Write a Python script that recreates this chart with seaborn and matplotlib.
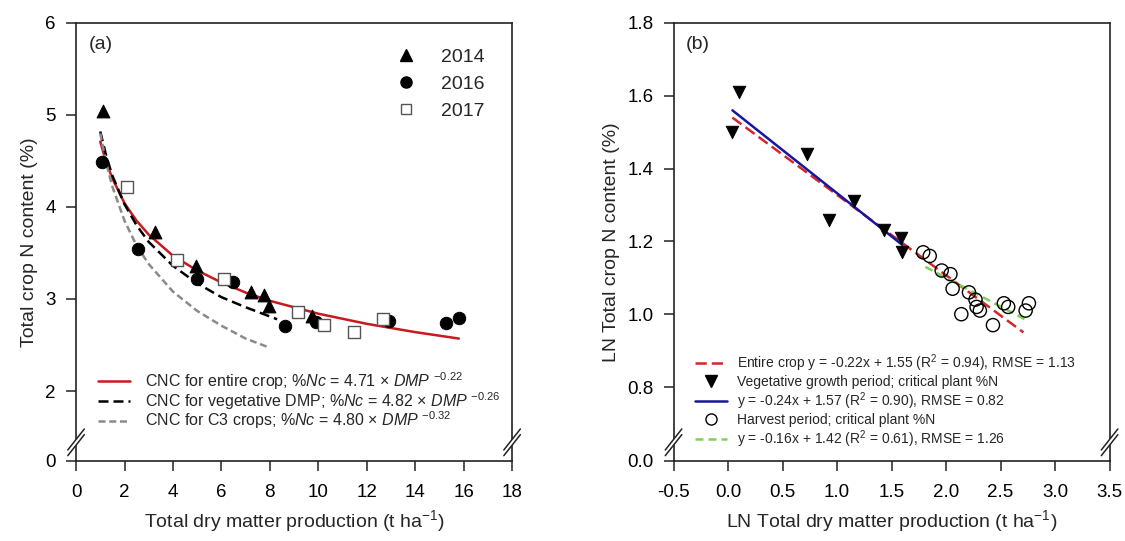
import numpy as np
import pandas as pd
import matplotlib
matplotlib.use('Agg')
import matplotlib.pyplot as plt
from matplotlib.lines import Line2D
from matplotlib.patches import Polygon
import seaborn as sns

x2014 = [1.13, 3.24, 4.94, 7.23, 7.77, 7.95, 9.74]
y2014 = [5.04, 3.73, 3.36, 3.08, 3.04, 2.92, 2.81]
x2016 = [1.06, 2.55, 4.99, 6.47, 8.64, 9.92, 12.90, 15.29, 15.80]
y2016 = [4.49, 3.54, 3.22, 3.18, 2.71, 2.75, 2.76, 2.74, 2.79]
x2017 = [2.09, 4.16, 6.12, 9.16, 10.22, 11.46, 12.66]
y2017 = [4.22, 3.42, 3.22, 2.86, 2.72, 2.64, 2.78]

# dilution curves, values
cnc_entire_x = [1.0, 1.25, 1.5, 2.0, 2.5, 3.0, 4.0, 5.0, 6.0, 7.0, 8.0, 10.0, 12.0, 14.0, 15.8]
cnc_entire_y = [4.71, 4.48, 4.31, 4.04, 3.85, 3.70, 3.47, 3.31, 3.18, 3.07, 2.98, 2.84, 2.73, 2.64, 2.57]
cnc_veg_x = [1.0, 1.25, 1.5, 2.0, 2.5, 3.0, 4.0, 5.0, 6.0, 7.0, 8.3]
cnc_veg_y = [4.82, 4.55, 4.34, 4.03, 3.80, 3.62, 3.36, 3.17, 3.02, 2.91, 2.78]
cnc_c3_x = [1.0, 1.25, 1.5, 2.0, 2.5, 3.0, 4.0, 5.0, 6.0, 7.0, 8.0]
cnc_c3_y = [4.80, 4.47, 4.22, 3.85, 3.58, 3.38, 3.08, 2.87, 2.71, 2.57, 2.47]

# ---- panel (b): LN values
veg_x = [0.04, 0.10, 0.72, 0.93, 1.16, 1.43, 1.59, 1.60]
veg_y = [1.50, 1.61, 1.44, 1.26, 1.31, 1.23, 1.21, 1.17]
harv_x = [1.79, 1.85, 1.96, 2.04, 2.06, 2.14, 2.21, 2.27, 2.28, 2.31, 2.43, 2.53, 2.57, 2.73, 2.76]
harv_y = [1.17, 1.16, 1.12, 1.11, 1.07, 1.00, 1.06, 1.04, 1.02, 1.01, 0.97, 1.03, 1.02, 1.01, 1.03]

fit_entire_x = [0.04, 2.71]
fit_entire_y = [1.54, 0.95]
fit_veg_x = [0.04, 1.60]
fit_veg_y = [1.56, 1.19]
fit_harv_x = [1.81, 2.76]
fit_harv_y = [1.13, 0.98]

RED_A = '#c8191e'
RED_B = '#d4262b'
BLUE = '#1616a0'
GREEN = '#7fd256'
GREY = '#8a8a8a'
DASH_BLACK = (0, (4, 2))
DASH_GREY = (0, (2.8, 1.5))
DASH_RED = (0, (4.5, 2))
DASH_GREEN = (0, (3.2, 2))

sns.set_theme(style='ticks')
plt.rcParams['font.family'] = ['Liberation Sans', 'DejaVu Sans']
plt.rcParams['mathtext.fontset'] = 'custom'
plt.rcParams['mathtext.rm'] = 'Liberation Sans'
plt.rcParams['mathtext.it'] = 'Liberation Sans:italic'
plt.rcParams['axes.edgecolor'] = '#222222'
plt.rcParams['axes.linewidth'] = 1.2
plt.rcParams['xtick.major.size'] = 7
plt.rcParams['ytick.major.size'] = 7
plt.rcParams['xtick.major.width'] = 1.1
plt.rcParams['ytick.major.width'] = 1.1
plt.rcParams['xtick.major.pad'] = 9.5
plt.rcParams['ytick.major.pad'] = 7.5
plt.rcParams['xtick.color'] = '#222222'
plt.rcParams['ytick.color'] = '#222222'
plt.rcParams['xtick.labelcolor'] = 'black'
plt.rcParams['ytick.labelcolor'] = 'black'

fig = plt.figure(figsize=(11.25, 5.41), dpi=100)
ax_a = fig.add_axes([0.0676, 0.148, 0.3876, 0.8096])
ax_b = fig.add_axes([0.5987, 0.148, 0.3876, 0.8096])


def broken_scale(ax, brk, zero_at):
    # squeeze everything below `brk` into a short strip
    k = (brk - zero_at) / brk

    def fwd(v):
        v = np.asarray(v, dtype=float)
        return np.where(v >= brk, v, zero_at + v * k)

    def inv(v):
        v = np.asarray(v, dtype=float)
        return np.where(v >= brk, v, (v - zero_at) / k)

    ax.set_yscale('function', functions=(fwd, inv))


def add_break(ax, yf=0.036):
    dx, dy, sep = 0.019, 0.024, 0.013
    for xs in (0, 1):
        poly = Polygon([[xs - dx, yf - dy], [xs + dx, yf + dy],
                        [xs + dx, yf + dy + sep], [xs - dx, yf - dy + sep]],
                       closed=True, transform=ax.transAxes, clip_on=False,
                       facecolor='white', edgecolor='none', zorder=5)
        ax.add_patch(poly)
        for off in (0, sep):
            ax.plot([xs - dx, xs + dx], [yf - dy + off, yf + dy + off],
                    transform=ax.transAxes, clip_on=False, color='#222222', lw=1.1, zorder=6)


# ---------------- panel (a)
broken_scale(ax_a, 1.6, 1.24)

sns.lineplot(x=cnc_entire_x, y=cnc_entire_y, ax=ax_a, color=RED_A, lw=1.8, sort=False)
sns.lineplot(x=cnc_veg_x, y=cnc_veg_y, ax=ax_a, color='black', lw=1.8, sort=False,
             linestyle=DASH_BLACK)
sns.lineplot(x=cnc_c3_x, y=cnc_c3_y, ax=ax_a, color=GREY, lw=1.8, sort=False,
             linestyle=DASH_GREY)

sns.scatterplot(x=x2014, y=y2014, ax=ax_a, marker='^', s=85, color='black', edgecolor='black', zorder=4)
sns.scatterplot(x=x2016, y=y2016, ax=ax_a, marker='o', s=80, color='black', edgecolor='black', zorder=4)
sns.scatterplot(x=x2017, y=y2017, ax=ax_a, marker='s', s=75, facecolor='white', edgecolor='#555555',
                linewidth=1.0, zorder=4)

ax_a.set_xlim(0, 18)
ax_a.set_ylim(0, 6)
ax_a.set_xticks(np.arange(0, 19, 2))
ax_a.set_yticks([0, 2, 3, 4, 5, 6])
ax_a.set_yticklabels(['0', '2', '3', '4', '5', '6'])
ax_a.tick_params(labelsize=13.5)
ax_a.set_xlabel('Total dry matter production (t ha$^{-1}$)', fontsize=14, labelpad=5)
ax_a.set_ylabel('Total crop N content (%)', fontsize=14, labelpad=5)
ax_a.text(0.028, 0.95, '(a)', transform=ax_a.transAxes, fontsize=14, va='center', ha='left')

year_handles = [
    Line2D([], [], ls='none', marker='^', ms=8, color='black'),
    Line2D([], [], ls='none', marker='o', ms=8, color='black'),
    Line2D([], [], ls='none', marker='s', ms=7, mfc='white', mec='#555555', mew=1.0),
]
leg_years = ax_a.legend(year_handles, ['2014', '2016', '2017'], loc='upper right',
                        bbox_to_anchor=(0.955, 0.96), frameon=False, fontsize=14,
                        handlelength=1.2, handletextpad=1.2, labelspacing=0.48, borderaxespad=0)
ax_a.add_artist(leg_years)

curve_handles = [
    Line2D([], [], color=RED_A, lw=1.8),
    Line2D([], [], color='black', lw=1.8, ls=DASH_BLACK),
    Line2D([], [], color=GREY, lw=1.8, ls=DASH_GREY),
]
curve_labels = [
    r'CNC for entire crop; $\mathit{\%Nc}$ = 4.71 × $\mathit{DMP}$ $^{-0.22}$',
    r'CNC for vegetative DMP; $\mathit{\%Nc}$ = 4.82 × $\mathit{DMP}$ $^{-0.26}$',
    r'CNC for C3 crops; $\mathit{\%Nc}$ = 4.80 × $\mathit{DMP}$ $^{-0.32}$',
]
ax_a.legend(curve_handles, curve_labels, loc='upper left', bbox_to_anchor=(0.035, 0.222),
            frameon=False, fontsize=11.5, handlelength=2.0, handletextpad=0.95,
            labelspacing=-0.12, borderaxespad=0)
add_break(ax_a)

# ---------------- panel (b)
broken_scale(ax_b, 0.7, 0.597)

sns.lineplot(x=fit_entire_x, y=fit_entire_y, ax=ax_b, color=RED_B, lw=1.8,
             linestyle=DASH_RED, zorder=3)
sns.lineplot(x=fit_veg_x, y=fit_veg_y, ax=ax_b, color=BLUE, lw=1.8, zorder=3)
sns.lineplot(x=fit_harv_x, y=fit_harv_y, ax=ax_b, color=GREEN, lw=1.8,
             linestyle=DASH_GREEN, zorder=3)

sns.scatterplot(x=veg_x, y=veg_y, ax=ax_b, marker='v', s=80, color='black', edgecolor='black', zorder=4)
sns.scatterplot(x=harv_x, y=harv_y, ax=ax_b, marker='o', s=90, facecolor='none', edgecolor='black',
                linewidth=1.0, zorder=4)

ax_b.set_xlim(-0.5, 3.5)
ax_b.set_ylim(0, 1.8)
ax_b.set_xticks(np.arange(-0.5, 3.51, 0.5))
ax_b.set_xticklabels([f'{v:.1f}' for v in np.arange(-0.5, 3.51, 0.5)])
ax_b.set_yticks([0.0, 0.8, 1.0, 1.2, 1.4, 1.6, 1.8])
ax_b.set_yticklabels(['0.0', '0.8', '1.0', '1.2', '1.4', '1.6', '1.8'])
ax_b.tick_params(labelsize=13.5)
ax_b.set_xlabel('LN Total dry matter production (t ha$^{-1}$)', fontsize=14, labelpad=5)
ax_b.set_ylabel('LN Total crop N content (%)', fontsize=14, labelpad=5)
ax_b.text(0.028, 0.95, '(b)', transform=ax_b.transAxes, fontsize=14, va='center', ha='left')

fit_handles = [
    Line2D([], [], color=RED_B, lw=1.8, ls=DASH_RED),
    Line2D([], [], ls='none', marker='v', ms=8, color='black'),
    Line2D([], [], color=BLUE, lw=1.8),
    Line2D([], [], ls='none', marker='o', ms=8, mfc='none', mec='black', mew=1.0),
    Line2D([], [], color=GREEN, lw=1.8, ls=DASH_GREEN),
]
fit_labels = [
    'Entire crop y = -0.22x + 1.55 (R$^2$ = 0.94), RMSE = 1.13',
    'Vegetative growth period; critical plant %N',
    'y = -0.24x + 1.57 (R$^2$ = 0.90), RMSE = 0.82',
    'Harvest period; critical plant %N',
    'y = -0.16x + 1.42 (R$^2$ = 0.61), RMSE = 1.26',
]
ax_b.legend(fit_handles, fit_labels, loc='upper left', bbox_to_anchor=(0.037, 0.26),
            frameon=False, fontsize=10, handlelength=2.3, handletextpad=0.7,
            labelspacing=0.08, borderaxespad=0)
add_break(ax_b)

fig.savefig('out.png', dpi=100)
